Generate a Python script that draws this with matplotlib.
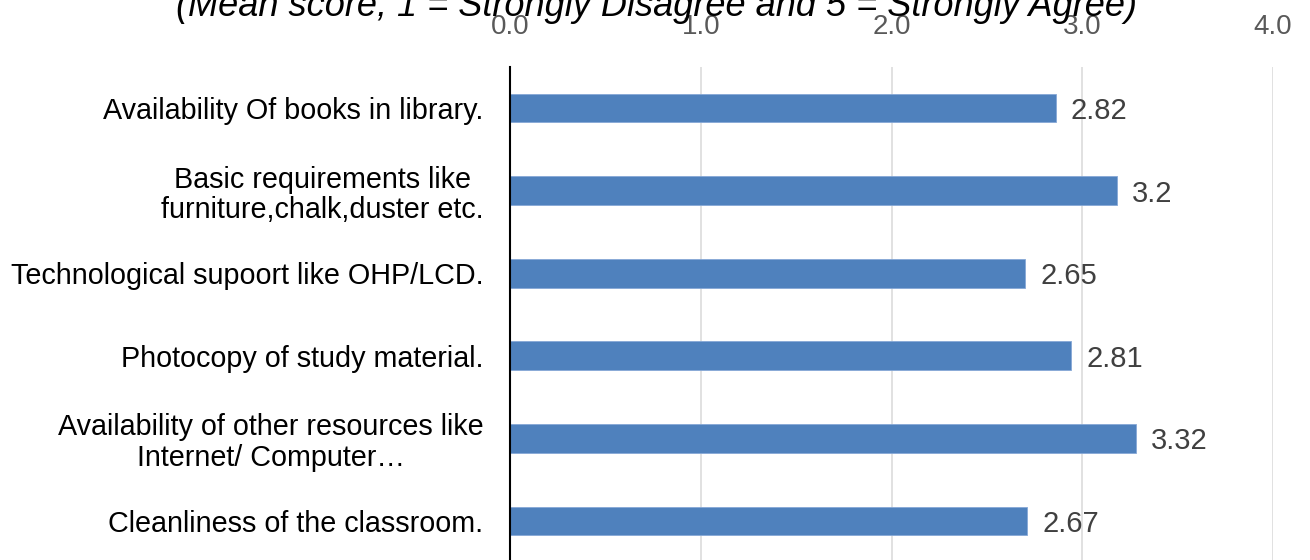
import matplotlib
matplotlib.use('Agg')
import matplotlib.pyplot as plt

# categories, top to bottom
categories = [
    'Availability Of books in library.',
    'Basic requirements like\nfurniture,chalk,duster etc.',
    'Technological supoort like OHP/LCD.',
    'Photocopy of study material.',
    'Availability of other resources like\nInternet/ Computer\u2026',
    'Cleanliness of the classroom.',
]
# bar lengths as drawn in the picture
bar_values = [2.86, 3.18, 2.70, 2.94, 3.28, 2.71]
# data labels as printed
value_labels = ['2.82', '3.2', '2.65', '2.81', '3.32', '2.67']
x_ticks = [0.0, 1.0, 2.0, 3.0, 4.0]
title = '(Mean score, 1 = Strongly Disagree and 5 = Strongly Agree)'

plt.rcParams['font.family'] = ['Liberation Sans', 'DejaVu Sans']

fig = plt.figure(figsize=(13.1, 5.6), dpi=100)
ax = fig.add_axes([510 / 1310, -0.0041, 763 / 1310, 0.885])

ypos = list(range(len(categories)))
bars = ax.barh(ypos, bar_values, height=0.35, color='#4F81BD',
               edgecolor='#86A8D6', linewidth=0.6, zorder=3)

for bar, lab in zip(bars, value_labels):
    ax.annotate(lab, (bar.get_width(), bar.get_y() + bar.get_height() / 2),
                xytext=(11, 0), textcoords='offset points',
                ha='left', va='center_baseline', fontsize=21, color='#404040')

ax.set_xlim(0, 4)
ax.set_ylim(len(categories) - 0.5, -0.5)
ax.set_xticks(x_ticks)
ax.set_xticklabels([f'{t:.1f}' for t in x_ticks])
ax.xaxis.tick_top()
ax.tick_params(axis='x', length=0, pad=19, labelsize=20, labelcolor='#595959')
ax.set_yticks(ypos)
ax.set_yticklabels(categories, fontsize=20.7, color='black',
                   multialignment='center', linespacing=1.1)
ax.tick_params(axis='y', length=0, pad=19)

ax.grid(axis='x', color='#D9D9D9', linewidth=1.1, zorder=0)
for side in ['top', 'right', 'bottom']:
    ax.spines[side].set_visible(False)
ax.spines['left'].set_color('black')
ax.spines['left'].set_linewidth(1.5)
ax.spines['left'].set_zorder(4)

fig.text(657 / 1310, 1 - 16 / 560, title, ha='center', va='baseline',
         fontsize=26, style='italic', color='black')

fig.savefig('out.png', dpi=100)
